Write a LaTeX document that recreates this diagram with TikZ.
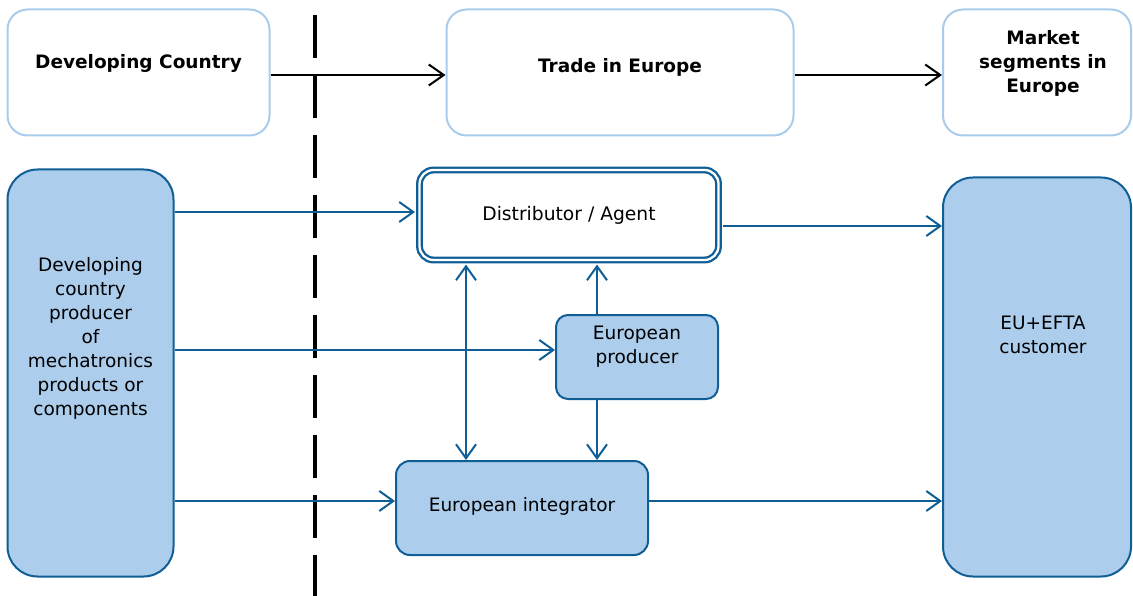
\documentclass[tikz,border=0pt]{standalone}
\usepackage{fontspec}
\setmainfont{DejaVu Sans}
\usetikzlibrary{arrows.meta}
\definecolor{dkblue}{RGB}{16,94,150}
\definecolor{ltfill}{RGB}{172,205,236}
\definecolor{ltborder}{RGB}{170,204,236}
\newcommand{\rsh}{\hspace*{12pt}}
\tikzset{
  topbox/.style={draw=ltborder, line width=2pt, fill=white, rounded corners=20pt,
    font=\fontsize{18.5}{24}\selectfont\bfseries, align=center, inner sep=0pt},
  bluebox/.style={draw=dkblue, line width=2pt, fill=ltfill, align=center, inner sep=0pt,
    font=\fontsize{18.5}{24}\selectfont},
  dblbox/.style={draw=dkblue, line width=2.3pt, double=white, double distance=2.3pt,
    align=center, inner sep=0pt, rounded corners=14pt, font=\fontsize{18.7}{24}\selectfont},
  flow/.style={draw=dkblue, line width=2pt, -{Straight Barb[length=14pt,width=20pt]}},
  blackflow/.style={draw=black, line width=2pt, -{Straight Barb[length=15pt,width=21pt]}},
  divider/.style={draw=black, line width=4.5pt, dash pattern=on 43pt off 17pt}
}
\begin{document}
\begin{tikzpicture}[x=1pt, y=-1pt]
\useasboundingbox (0,0) rectangle (1133,596);
% divider
\coordinate (dtop) at (315,15);
\coordinate (dbot) at (315,600);
\draw[divider] (dtop) -- (dbot);
% top row
\node[topbox, minimum width=262pt, minimum height=126pt] (DC) at (138.5,72.5) {Developing Country\\[-1pt]\mbox{}};
\node[topbox, minimum width=347pt, minimum height=126pt] (T) at (620,72.5) {Trade in Europe\\[-10pt]\mbox{}};
\node[topbox, minimum width=188pt, minimum height=126pt] (M) at (1037,72.5)
  {\rsh Market\\\rsh segments in\\\rsh Europe\\[-2pt]\mbox{}};
\draw[blackflow] (DC.east |- 0,75) -- (T.west |- 0,75);
\draw[blackflow] (T.east |- 0,75) -- (M.west |- 0,75);
% main row
\node[bluebox, rounded corners=30pt, minimum width=166pt, minimum height=407pt] (L) at (90.5,373)
  {Developing\\country\\producer\\of\\mechatronics\\products or\\components\\[50pt]\mbox{}};
\node[bluebox, rounded corners=30pt, minimum width=188pt, minimum height=399pt] (C) at (1037,377)
  {\rsh EU+EFTA\\\rsh customer\\[60pt]\mbox{}};
\node[dblbox, minimum width=299pt, minimum height=90pt] (D) at (569,215) {Distributor / Agent};
\node[bluebox, rounded corners=12pt, minimum width=162pt, minimum height=84pt] (P) at (637,357)
  {European\\producer\\ \mbox{}};
\node[bluebox, rounded corners=14pt, minimum width=252pt, minimum height=94pt] (I) at (522,508)
  {European integrator\\[-16pt]\mbox{}};
% connectors
\draw[flow, shorten >=3.4pt] (L.east |- 0,212) -- (D.west |- 0,212);
\draw[flow] (L.east |- 0,350) -- (P.west |- 0,350);
\draw[flow] (L.east |- 0,501) -- (I.west |- 0,501);
\draw[flow, shorten <=3.4pt] (D.east |- 0,226) -- (C.west |- 0,226);
\draw[flow] (I.east |- 0,501) -- (C.west |- 0,501);
\draw[flow, {Straight Barb[length=14pt,width=20pt]}-{Straight Barb[length=14pt,width=20pt]}, shorten <=3.4pt]
  (D.south -| 466,0) -- (I.north -| 466,0);
\draw[flow, shorten >=3.4pt] (P.north -| 597,0) -- (D.south -| 597,0);
\draw[flow] (P.south -| 597,0) -- (I.north -| 597,0);
\end{tikzpicture}
\end{document}
